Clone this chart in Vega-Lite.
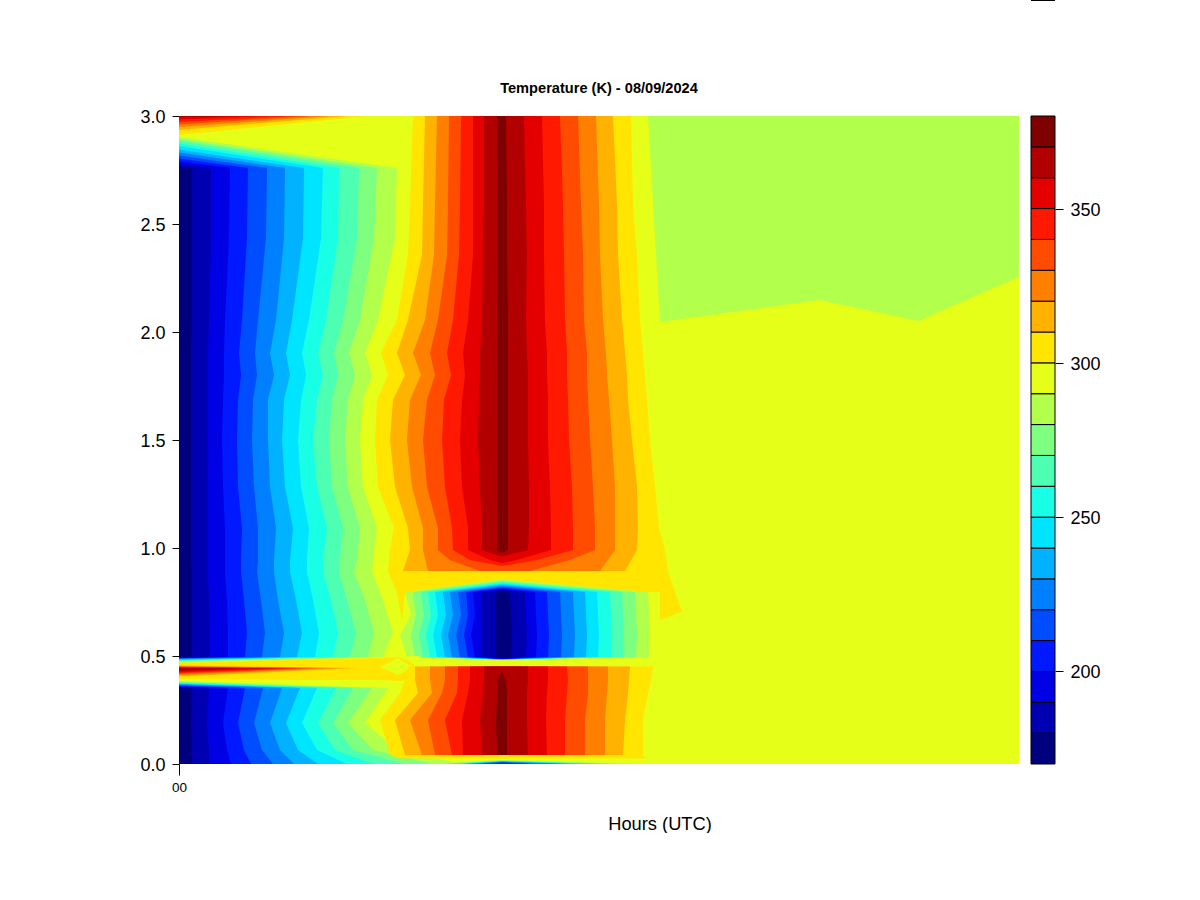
{"$schema":"https://vega.github.io/schema/vega-lite/v6.json","background":"white","autosize":{"type":"pad"},"padding":{"left":139,"top":0,"right":0,"bottom":0},"spacing":11,"config":{"view":{"stroke":null},"font":"Liberation Sans"},
"datasets":{
"base":[
{"p":"bg","t":290,"x":0,"y":3,"y2":0},{"p":"bg","t":290,"x":840,"y":3,"y2":0},
{"p":"gr","t":280,"x":469,"y":3,"y2":3},{"p":"gr","t":280,"x":481,"y":3,"y2":2.046},{"p":"gr","t":280,"x":641,"y":3,"y2":2.148},{"p":"gr","t":280,"x":739,"y":3,"y2":2.051},{"p":"gr","t":280,"x":840,"y":3,"y2":2.255}
],
"upper":[
{"p":"c","t":280,"y":2.759,"a":0,"b":218},{"p":"c","t":270,"y":2.759,"a":0,"b":198},{"p":"c","t":260,"y":2.759,"a":0,"b":180},{"p":"c","t":250,"y":2.759,"a":0,"b":160},{"p":"c","t":240,"y":2.759,"a":0,"b":144},{"p":"c","t":230,"y":2.759,"a":0,"b":125},{"p":"c","t":220,"y":2.759,"a":0,"b":106},{"p":"c","t":210,"y":2.759,"a":0,"b":88},{"p":"c","t":200,"y":2.759,"a":0,"b":69},{"p":"c","t":190,"y":2.759,"a":0,"b":51},{"p":"c","t":180,"y":2.759,"a":0,"b":32},{"p":"c","t":170,"y":2.759,"a":0,"b":13},
{"p":"c","t":280,"y":2.435,"a":0,"b":216},{"p":"c","t":270,"y":2.435,"a":0,"b":195},{"p":"c","t":260,"y":2.435,"a":0,"b":178},{"p":"c","t":250,"y":2.435,"a":0,"b":159},{"p":"c","t":240,"y":2.435,"a":0,"b":142},{"p":"c","t":230,"y":2.435,"a":0,"b":124},{"p":"c","t":220,"y":2.435,"a":0,"b":105},{"p":"c","t":210,"y":2.435,"a":0,"b":87},{"p":"c","t":200,"y":2.435,"a":0,"b":68},{"p":"c","t":190,"y":2.435,"a":0,"b":50},{"p":"c","t":180,"y":2.435,"a":0,"b":32},{"p":"c","t":170,"y":2.435,"a":0,"b":13},
{"p":"c","t":280,"y":2.056,"a":0,"b":199},{"p":"c","t":270,"y":2.056,"a":0,"b":181},{"p":"c","t":260,"y":2.056,"a":0,"b":164},{"p":"c","t":250,"y":2.056,"a":0,"b":147},{"p":"c","t":240,"y":2.056,"a":0,"b":130},{"p":"c","t":230,"y":2.056,"a":0,"b":113},{"p":"c","t":220,"y":2.056,"a":0,"b":97},{"p":"c","t":210,"y":2.056,"a":0,"b":79},{"p":"c","t":200,"y":2.056,"a":0,"b":63},{"p":"c","t":190,"y":2.056,"a":0,"b":46},{"p":"c","t":180,"y":2.056,"a":0,"b":30},{"p":"c","t":170,"y":2.056,"a":0,"b":13},
{"p":"c","t":280,"y":1.903,"a":0,"b":186},{"p":"c","t":270,"y":1.903,"a":0,"b":170},{"p":"c","t":260,"y":1.903,"a":0,"b":155},{"p":"c","t":250,"y":1.903,"a":0,"b":139},{"p":"c","t":240,"y":1.903,"a":0,"b":123},{"p":"c","t":230,"y":1.903,"a":0,"b":107},{"p":"c","t":220,"y":1.903,"a":0,"b":91},{"p":"c","t":210,"y":1.903,"a":0,"b":76},{"p":"c","t":200,"y":1.903,"a":0,"b":60},{"p":"c","t":190,"y":1.903,"a":0,"b":45},{"p":"c","t":180,"y":1.903,"a":0,"b":29},{"p":"c","t":170,"y":1.903,"a":0,"b":12},
{"p":"c","t":280,"y":1.801,"a":0,"b":193},{"p":"c","t":270,"y":1.801,"a":0,"b":176},{"p":"c","t":260,"y":1.801,"a":0,"b":159},{"p":"c","t":250,"y":1.801,"a":0,"b":144},{"p":"c","t":240,"y":1.801,"a":0,"b":127},{"p":"c","t":230,"y":1.801,"a":0,"b":111},{"p":"c","t":220,"y":1.801,"a":0,"b":95},{"p":"c","t":210,"y":1.801,"a":0,"b":78},{"p":"c","t":200,"y":1.801,"a":0,"b":62},{"p":"c","t":190,"y":1.801,"a":0,"b":45},{"p":"c","t":180,"y":1.801,"a":0,"b":29},{"p":"c","t":170,"y":1.801,"a":0,"b":12},
{"p":"c","t":280,"y":1.685,"a":0,"b":184},{"p":"c","t":270,"y":1.685,"a":0,"b":169},{"p":"c","t":260,"y":1.685,"a":0,"b":153},{"p":"c","t":250,"y":1.685,"a":0,"b":138},{"p":"c","t":240,"y":1.685,"a":0,"b":122},{"p":"c","t":230,"y":1.685,"a":0,"b":105},{"p":"c","t":220,"y":1.685,"a":0,"b":89},{"p":"c","t":210,"y":1.685,"a":0,"b":74},{"p":"c","t":200,"y":1.685,"a":0,"b":59},{"p":"c","t":190,"y":1.685,"a":0,"b":44},{"p":"c","t":180,"y":1.685,"a":0,"b":29},{"p":"c","t":170,"y":1.685,"a":0,"b":12},
{"p":"c","t":280,"y":1.5,"a":0,"b":181},{"p":"c","t":270,"y":1.5,"a":0,"b":166},{"p":"c","t":260,"y":1.5,"a":0,"b":150},{"p":"c","t":250,"y":1.5,"a":0,"b":134},{"p":"c","t":240,"y":1.5,"a":0,"b":119},{"p":"c","t":230,"y":1.5,"a":0,"b":103},{"p":"c","t":220,"y":1.5,"a":0,"b":89},{"p":"c","t":210,"y":1.5,"a":0,"b":73},{"p":"c","t":200,"y":1.5,"a":0,"b":58},{"p":"c","t":190,"y":1.5,"a":0,"b":43},{"p":"c","t":180,"y":1.5,"a":0,"b":29},{"p":"c","t":170,"y":1.5,"a":0,"b":12},
{"p":"c","t":280,"y":1.282,"a":0,"b":184},{"p":"c","t":270,"y":1.282,"a":0,"b":169},{"p":"c","t":260,"y":1.282,"a":0,"b":153},{"p":"c","t":250,"y":1.282,"a":0,"b":138},{"p":"c","t":240,"y":1.282,"a":0,"b":122},{"p":"c","t":230,"y":1.282,"a":0,"b":106},{"p":"c","t":220,"y":1.282,"a":0,"b":91},{"p":"c","t":210,"y":1.282,"a":0,"b":75},{"p":"c","t":200,"y":1.282,"a":0,"b":59},{"p":"c","t":190,"y":1.282,"a":0,"b":44},{"p":"c","t":180,"y":1.282,"a":0,"b":29},{"p":"c","t":170,"y":1.282,"a":0,"b":12},
{"p":"c","t":280,"y":1.093,"a":0,"b":198},{"p":"c","t":270,"y":1.093,"a":0,"b":181},{"p":"c","t":260,"y":1.093,"a":0,"b":164},{"p":"c","t":250,"y":1.093,"a":0,"b":148},{"p":"c","t":240,"y":1.093,"a":0,"b":130},{"p":"c","t":230,"y":1.093,"a":0,"b":114},{"p":"c","t":220,"y":1.093,"a":0,"b":97},{"p":"c","t":210,"y":1.093,"a":0,"b":79},{"p":"c","t":200,"y":1.093,"a":0,"b":63},{"p":"c","t":190,"y":1.093,"a":0,"b":46},{"p":"c","t":180,"y":1.093,"a":0,"b":29},{"p":"c","t":170,"y":1.093,"a":0,"b":12},
{"p":"c","t":280,"y":0.944,"a":0,"b":194},{"p":"c","t":270,"y":0.944,"a":0,"b":178},{"p":"c","t":260,"y":0.944,"a":0,"b":161},{"p":"c","t":250,"y":0.944,"a":0,"b":144},{"p":"c","t":240,"y":0.944,"a":0,"b":128},{"p":"c","t":230,"y":0.944,"a":0,"b":111},{"p":"c","t":220,"y":0.944,"a":0,"b":95},{"p":"c","t":210,"y":0.944,"a":0,"b":79},{"p":"c","t":200,"y":0.944,"a":0,"b":62},{"p":"c","t":190,"y":0.944,"a":0,"b":46},{"p":"c","t":180,"y":0.944,"a":0,"b":29},{"p":"c","t":170,"y":0.944,"a":0,"b":12},
{"p":"c","t":280,"y":0.889,"a":0,"b":193},{"p":"c","t":270,"y":0.889,"a":0,"b":175},{"p":"c","t":260,"y":0.889,"a":0,"b":160},{"p":"c","t":250,"y":0.889,"a":0,"b":144},{"p":"c","t":240,"y":0.889,"a":0,"b":128},{"p":"c","t":230,"y":0.889,"a":0,"b":111},{"p":"c","t":220,"y":0.889,"a":0,"b":95},{"p":"c","t":210,"y":0.889,"a":0,"b":78},{"p":"c","t":200,"y":0.889,"a":0,"b":62},{"p":"c","t":190,"y":0.889,"a":0,"b":46},{"p":"c","t":180,"y":0.889,"a":0,"b":29},{"p":"c","t":170,"y":0.889,"a":0,"b":13},
{"p":"c","t":280,"y":0.759,"a":0,"b":204},{"p":"c","t":270,"y":0.759,"a":0,"b":186},{"p":"c","t":260,"y":0.759,"a":0,"b":168},{"p":"c","t":250,"y":0.759,"a":0,"b":152},{"p":"c","t":240,"y":0.759,"a":0,"b":134},{"p":"c","t":230,"y":0.759,"a":0,"b":117},{"p":"c","t":220,"y":0.759,"a":0,"b":99},{"p":"c","t":210,"y":0.759,"a":0,"b":82},{"p":"c","t":200,"y":0.759,"a":0,"b":65},{"p":"c","t":190,"y":0.759,"a":0,"b":48},{"p":"c","t":180,"y":0.759,"a":0,"b":30},{"p":"c","t":170,"y":0.759,"a":0,"b":13},
{"p":"c","t":280,"y":0.606,"a":0,"b":214},{"p":"c","t":270,"y":0.606,"a":0,"b":195},{"p":"c","t":260,"y":0.606,"a":0,"b":177},{"p":"c","t":250,"y":0.606,"a":0,"b":159},{"p":"c","t":240,"y":0.606,"a":0,"b":140},{"p":"c","t":230,"y":0.606,"a":0,"b":123},{"p":"c","t":220,"y":0.606,"a":0,"b":105},{"p":"c","t":210,"y":0.606,"a":0,"b":86},{"p":"c","t":200,"y":0.606,"a":0,"b":68},{"p":"c","t":190,"y":0.606,"a":0,"b":49},{"p":"c","t":180,"y":0.606,"a":0,"b":31},{"p":"c","t":170,"y":0.606,"a":0,"b":13},
{"p":"c","t":280,"y":0.495,"a":0,"b":204},{"p":"c","t":270,"y":0.495,"a":0,"b":189},{"p":"c","t":260,"y":0.495,"a":0,"b":171},{"p":"c","t":250,"y":0.495,"a":0,"b":154},{"p":"c","t":240,"y":0.495,"a":0,"b":136},{"p":"c","t":230,"y":0.495,"a":0,"b":118},{"p":"c","t":220,"y":0.495,"a":0,"b":101},{"p":"c","t":210,"y":0.495,"a":0,"b":83},{"p":"c","t":200,"y":0.495,"a":0,"b":66},{"p":"c","t":190,"y":0.495,"a":0,"b":49},{"p":"c","t":180,"y":0.495,"a":0,"b":31},{"p":"c","t":170,"y":0.495,"a":0,"b":13},

{"p":"h","t":300,"y":3,"a":234,"b":452},{"p":"h","t":310,"y":3,"a":246,"b":434},{"p":"h","t":320,"y":3,"a":258,"b":417},{"p":"h","t":330,"y":3,"a":270,"b":399},{"p":"h","t":340,"y":3,"a":282,"b":381},{"p":"h","t":350,"y":3,"a":294,"b":363},{"p":"h","t":360,"y":3,"a":305,"b":345},{"p":"h","t":370,"y":3,"a":318,"b":327},
{"p":"h","t":300,"y":2.588,"a":231,"b":454},{"p":"h","t":310,"y":2.588,"a":244,"b":438},{"p":"h","t":320,"y":2.588,"a":256,"b":420},{"p":"h","t":330,"y":2.588,"a":269,"b":402},{"p":"h","t":340,"y":2.588,"a":281,"b":384},{"p":"h","t":350,"y":2.588,"a":294,"b":365},{"p":"h","t":360,"y":2.588,"a":305,"b":347},{"p":"h","t":370,"y":2.588,"a":318,"b":328},
{"p":"h","t":300,"y":2.356,"a":229,"b":458},{"p":"h","t":310,"y":2.356,"a":243,"b":439},{"p":"h","t":320,"y":2.356,"a":255,"b":421},{"p":"h","t":330,"y":2.356,"a":268,"b":404},{"p":"h","t":340,"y":2.356,"a":280,"b":385},{"p":"h","t":350,"y":2.356,"a":294,"b":365},{"p":"h","t":360,"y":2.356,"a":304,"b":348},{"p":"h","t":370,"y":2.356,"a":318,"b":328},
{"p":"h","t":300,"y":2.056,"a":218,"b":461},{"p":"h","t":310,"y":2.056,"a":229,"b":443},{"p":"h","t":320,"y":2.056,"a":246,"b":424},{"p":"h","t":330,"y":2.056,"a":259,"b":405},{"p":"h","t":340,"y":2.056,"a":274,"b":386},{"p":"h","t":350,"y":2.056,"a":289,"b":366},{"p":"h","t":360,"y":2.056,"a":303,"b":347},{"p":"h","t":370,"y":2.056,"a":318,"b":329},
{"p":"h","t":300,"y":1.903,"a":202,"b":464},{"p":"h","t":310,"y":1.903,"a":218,"b":446},{"p":"h","t":320,"y":1.903,"a":234,"b":427},{"p":"h","t":330,"y":1.903,"a":251,"b":408},{"p":"h","t":340,"y":1.903,"a":268,"b":388},{"p":"h","t":350,"y":1.903,"a":284,"b":368},{"p":"h","t":360,"y":1.903,"a":301,"b":348},{"p":"h","t":370,"y":1.903,"a":318,"b":329},
{"p":"h","t":300,"y":1.801,"a":209,"b":466},{"p":"h","t":310,"y":1.801,"a":226,"b":448},{"p":"h","t":320,"y":1.801,"a":242,"b":428},{"p":"h","t":330,"y":1.801,"a":256,"b":408},{"p":"h","t":340,"y":1.801,"a":272,"b":388},{"p":"h","t":350,"y":1.801,"a":286,"b":368},{"p":"h","t":360,"y":1.801,"a":301,"b":349},{"p":"h","t":370,"y":1.801,"a":318,"b":329},
{"p":"h","t":300,"y":1.685,"a":198,"b":468},{"p":"h","t":310,"y":1.685,"a":214,"b":449},{"p":"h","t":320,"y":1.685,"a":231,"b":430},{"p":"h","t":330,"y":1.685,"a":248,"b":409},{"p":"h","t":340,"y":1.685,"a":265,"b":389},{"p":"h","t":350,"y":1.685,"a":283,"b":369},{"p":"h","t":360,"y":1.685,"a":300,"b":349},{"p":"h","t":370,"y":1.685,"a":318,"b":329},
{"p":"h","t":300,"y":1.5,"a":196,"b":471},{"p":"h","t":310,"y":1.5,"a":211,"b":453},{"p":"h","t":320,"y":1.5,"a":228,"b":433},{"p":"h","t":330,"y":1.5,"a":244,"b":411},{"p":"h","t":340,"y":1.5,"a":263,"b":390},{"p":"h","t":350,"y":1.5,"a":281,"b":369},{"p":"h","t":360,"y":1.5,"a":299,"b":349},{"p":"h","t":370,"y":1.5,"a":318,"b":329},
{"p":"h","t":300,"y":1.282,"a":199,"b":476},{"p":"h","t":310,"y":1.282,"a":216,"b":458},{"p":"h","t":320,"y":1.282,"a":233,"b":436},{"p":"h","t":330,"y":1.282,"a":248,"b":414},{"p":"h","t":340,"y":1.282,"a":266,"b":393},{"p":"h","t":350,"y":1.282,"a":283,"b":371},{"p":"h","t":360,"y":1.282,"a":301,"b":350},{"p":"h","t":370,"y":1.282,"a":318,"b":329},
{"p":"h","t":300,"y":1.093,"a":215,"b":480},{"p":"h","t":310,"y":1.093,"a":229,"b":459},{"p":"h","t":320,"y":1.093,"a":244,"b":436},{"p":"h","t":330,"y":1.093,"a":259,"b":416},{"p":"h","t":340,"y":1.093,"a":273,"b":394},{"p":"h","t":350,"y":1.093,"a":289,"b":372},{"p":"h","t":360,"y":1.093,"a":303,"b":350},{"p":"h","t":370,"y":1.093,"a":318,"b":329},
{"p":"h","t":300,"y":0.991,"a":211,"b":486},{"p":"h","t":310,"y":0.991,"a":231,"b":458},{"p":"h","t":320,"y":0.991,"a":244,"b":436},{"p":"h","t":330,"y":0.991,"a":259,"b":416},{"p":"h","t":340,"y":0.991,"a":274,"b":394},{"p":"h","t":350,"y":0.991,"a":289,"b":372},{"p":"h","t":360,"y":0.991,"a":303,"b":349},{"p":"h","t":370,"y":0.991,"a":318,"b":329},
{"p":"h","t":370,"y":0.977,"a":323,"b":323},{"p":"h","t":360,"y":0.96,"a":323,"b":323},{"p":"h","t":350,"y":0.944,"a":311,"b":338},{"p":"h","t":350,"y":0.929,"a":323,"b":323},{"p":"h","t":340,"y":0.944,"a":291,"b":358},{"p":"h","t":340,"y":0.917,"a":323,"b":323},{"p":"h","t":330,"y":0.944,"a":271,"b":391},{"p":"h","t":330,"y":0.894,"a":301,"b":351},{"p":"h","t":320,"y":0.894,"a":249,"b":421},{"p":"h","t":310,"y":0.894,"a":224,"b":446},{"p":"h","t":300,"y":0.889,"a":209,"b":489},{"p":"h","t":300,"y":0.796,"a":218,"b":496},
{"p":"s1","t":300,"y":0.796,"a":218,"b":226},{"p":"s1","t":300,"y":0.662,"a":223,"b":223},
{"p":"s2","t":300,"y":0.796,"a":481,"b":496},{"p":"s2","t":300,"y":0.705,"a":481,"b":503},{"p":"s2","t":300,"y":0.667,"a":481,"b":481},

{"p":"b","t":280,"y":0.855,"a":323,"b":323},{"p":"b","t":270,"y":0.849,"a":323,"b":323},{"p":"b","t":260,"y":0.844,"a":323,"b":323},{"p":"b","t":250,"y":0.839,"a":323,"b":323},{"p":"b","t":240,"y":0.835,"a":323,"b":323},{"p":"b","t":230,"y":0.83,"a":323,"b":323},{"p":"b","t":220,"y":0.825,"a":323,"b":323},{"p":"b","t":210,"y":0.821,"a":323,"b":323},{"p":"b","t":200,"y":0.816,"a":323,"b":323},{"p":"b","t":190,"y":0.811,"a":323,"b":323},{"p":"b","t":180,"y":0.807,"a":323,"b":323},{"p":"b","t":170,"y":0.802,"a":323,"b":323},
{"p":"b","t":280,"y":0.796,"a":226,"b":469},{"p":"b","t":270,"y":0.796,"a":234,"b":456},{"p":"b","t":260,"y":0.796,"a":242,"b":443},{"p":"b","t":250,"y":0.796,"a":249,"b":431},{"p":"b","t":240,"y":0.796,"a":256,"b":418},{"p":"b","t":230,"y":0.796,"a":264,"b":406},{"p":"b","t":220,"y":0.796,"a":271,"b":394},{"p":"b","t":210,"y":0.796,"a":279,"b":381},{"p":"b","t":200,"y":0.796,"a":287,"b":368},{"p":"b","t":190,"y":0.796,"a":294,"b":356},{"p":"b","t":180,"y":0.796,"a":302,"b":346},{"p":"b","t":170,"y":0.796,"a":316,"b":331},
{"p":"b","t":280,"y":0.69,"a":232,"b":470},{"p":"b","t":270,"y":0.69,"a":237,"b":457},{"p":"b","t":260,"y":0.69,"a":245,"b":444},{"p":"b","t":250,"y":0.69,"a":252,"b":432},{"p":"b","t":240,"y":0.69,"a":259,"b":419},{"p":"b","t":230,"y":0.69,"a":267,"b":407},{"p":"b","t":220,"y":0.69,"a":274,"b":395},{"p":"b","t":210,"y":0.69,"a":282,"b":382},{"p":"b","t":200,"y":0.69,"a":289,"b":369},{"p":"b","t":190,"y":0.69,"a":296,"b":357},{"p":"b","t":180,"y":0.69,"a":302,"b":347},{"p":"b","t":170,"y":0.69,"a":316,"b":332},
{"p":"b","t":280,"y":0.597,"a":221,"b":471},{"p":"b","t":270,"y":0.597,"a":232,"b":458},{"p":"b","t":260,"y":0.597,"a":240,"b":445},{"p":"b","t":250,"y":0.597,"a":247,"b":433},{"p":"b","t":240,"y":0.597,"a":254,"b":420},{"p":"b","t":230,"y":0.597,"a":262,"b":408},{"p":"b","t":220,"y":0.597,"a":269,"b":396},{"p":"b","t":210,"y":0.597,"a":277,"b":383},{"p":"b","t":200,"y":0.597,"a":285,"b":370},{"p":"b","t":190,"y":0.597,"a":292,"b":358},{"p":"b","t":180,"y":0.597,"a":302,"b":348},{"p":"b","t":170,"y":0.597,"a":316,"b":333},
{"p":"b","t":280,"y":0.495,"a":228,"b":470},{"p":"b","t":270,"y":0.495,"a":236,"b":457},{"p":"b","t":260,"y":0.495,"a":244,"b":444},{"p":"b","t":250,"y":0.495,"a":251,"b":432},{"p":"b","t":240,"y":0.495,"a":258,"b":419},{"p":"b","t":230,"y":0.495,"a":266,"b":407},{"p":"b","t":220,"y":0.495,"a":273,"b":395},{"p":"b","t":210,"y":0.495,"a":281,"b":382},{"p":"b","t":200,"y":0.495,"a":289,"b":369},{"p":"b","t":190,"y":0.495,"a":296,"b":357},{"p":"b","t":180,"y":0.495,"a":302,"b":347},{"p":"b","t":170,"y":0.495,"a":316,"b":332},
{"p":"b","t":280,"y":0.481,"a":323,"b":323},{"p":"b","t":270,"y":0.484,"a":323,"b":323},{"p":"b","t":260,"y":0.484,"a":323,"b":323},{"p":"b","t":250,"y":0.484,"a":323,"b":323},{"p":"b","t":240,"y":0.484,"a":323,"b":323},{"p":"b","t":230,"y":0.484,"a":323,"b":323},{"p":"b","t":220,"y":0.486,"a":323,"b":323},{"p":"b","t":210,"y":0.486,"a":323,"b":323},{"p":"b","t":200,"y":0.486,"a":323,"b":323},{"p":"b","t":190,"y":0.486,"a":323,"b":323},{"p":"b","t":180,"y":0.491,"a":323,"b":323},{"p":"b","t":170,"y":0.491,"a":323,"b":323},

{"p":"d","t":280,"y":0.352,"a":0,"b":209},{"p":"d","t":270,"y":0.352,"a":0,"b":193},{"p":"d","t":260,"y":0.352,"a":0,"b":174},{"p":"d","t":250,"y":0.352,"a":0,"b":157},{"p":"d","t":240,"y":0.352,"a":0,"b":138},{"p":"d","t":230,"y":0.352,"a":0,"b":121},{"p":"d","t":220,"y":0.352,"a":0,"b":103},{"p":"d","t":210,"y":0.352,"a":0,"b":84},{"p":"d","t":200,"y":0.352,"a":0,"b":66},{"p":"d","t":190,"y":0.352,"a":0,"b":49},{"p":"d","t":180,"y":0.352,"a":0,"b":30},{"p":"d","t":170,"y":0.352,"a":0,"b":13},
{"p":"d","t":280,"y":0.19,"a":0,"b":186},{"p":"d","t":270,"y":0.19,"a":0,"b":169},{"p":"d","t":260,"y":0.19,"a":0,"b":154},{"p":"d","t":250,"y":0.19,"a":0,"b":139},{"p":"d","t":240,"y":0.19,"a":0,"b":123},{"p":"d","t":230,"y":0.19,"a":0,"b":107},{"p":"d","t":220,"y":0.19,"a":0,"b":91},{"p":"d","t":210,"y":0.19,"a":0,"b":75},{"p":"d","t":200,"y":0.19,"a":0,"b":59},{"p":"d","t":190,"y":0.19,"a":0,"b":44},{"p":"d","t":180,"y":0.19,"a":0,"b":28},{"p":"d","t":170,"y":0.19,"a":0,"b":12},
{"p":"d","t":280,"y":0.065,"a":0,"b":218},{"p":"d","t":270,"y":0.065,"a":0,"b":194},{"p":"d","t":260,"y":0.065,"a":0,"b":174},{"p":"d","t":250,"y":0.065,"a":0,"b":156},{"p":"d","t":240,"y":0.065,"a":0,"b":138},{"p":"d","t":230,"y":0.065,"a":0,"b":119},{"p":"d","t":220,"y":0.065,"a":0,"b":101},{"p":"d","t":210,"y":0.065,"a":0,"b":83},{"p":"d","t":200,"y":0.065,"a":0,"b":65},{"p":"d","t":190,"y":0.065,"a":0,"b":48},{"p":"d","t":180,"y":0.065,"a":0,"b":30},{"p":"d","t":170,"y":0.065,"a":0,"b":13},
{"p":"d","t":280,"y":0,"a":0,"b":284},{"p":"d","t":270,"y":0,"a":0,"b":254},{"p":"d","t":260,"y":0,"a":0,"b":224},{"p":"d","t":250,"y":0,"a":0,"b":194},{"p":"d","t":240,"y":0,"a":0,"b":168},{"p":"d","t":230,"y":0,"a":0,"b":139},{"p":"d","t":220,"y":0,"a":0,"b":115},{"p":"d","t":210,"y":0,"a":0,"b":94},{"p":"d","t":200,"y":0,"a":0,"b":72},{"p":"d","t":190,"y":0,"a":0,"b":52},{"p":"d","t":180,"y":0,"a":0,"b":30},{"p":"d","t":170,"y":0,"a":0,"b":13}
],
"bands":[
{"p":"th","t":300,"x":0,"y":3,"y2":2.912},{"p":"th","t":300,"x":188,"y":3,"y2":3},{"p":"th","t":310,"x":0,"y":3,"y2":2.935},{"p":"th","t":310,"x":168,"y":3,"y2":3},{"p":"th","t":320,"x":0,"y":3,"y2":2.949},{"p":"th","t":320,"x":151,"y":3,"y2":3},{"p":"th","t":330,"x":0,"y":3,"y2":2.961},{"p":"th","t":330,"x":134,"y":3,"y2":3},{"p":"th","t":340,"x":0,"y":3,"y2":2.972},{"p":"th","t":340,"x":114,"y":3,"y2":3},{"p":"th","t":350,"x":0,"y":3,"y2":2.984},{"p":"th","t":350,"x":83,"y":3,"y2":3},{"p":"th","t":360,"x":0,"y":3,"y2":2.993},{"p":"th","t":360,"x":51,"y":3,"y2":3},
{"p":"tc","t":280,"x":0,"y":2.903,"y2":2.755},{"p":"tc","t":280,"x":218,"y":2.759,"y2":2.755},{"p":"tc","t":270,"x":0,"y":2.894,"y2":2.755},{"p":"tc","t":270,"x":198,"y":2.759,"y2":2.755},{"p":"tc","t":260,"x":0,"y":2.884,"y2":2.755},{"p":"tc","t":260,"x":180,"y":2.759,"y2":2.755},{"p":"tc","t":250,"x":0,"y":2.873,"y2":2.755},{"p":"tc","t":250,"x":160,"y":2.759,"y2":2.755},{"p":"tc","t":240,"x":0,"y":2.861,"y2":2.755},{"p":"tc","t":240,"x":144,"y":2.759,"y2":2.755},{"p":"tc","t":230,"x":0,"y":2.845,"y2":2.755},{"p":"tc","t":230,"x":125,"y":2.759,"y2":2.755},{"p":"tc","t":220,"x":0,"y":2.831,"y2":2.755},{"p":"tc","t":220,"x":106,"y":2.759,"y2":2.755},{"p":"tc","t":210,"x":0,"y":2.817,"y2":2.755},{"p":"tc","t":210,"x":88,"y":2.759,"y2":2.755},{"p":"tc","t":200,"x":0,"y":2.803,"y2":2.755},{"p":"tc","t":200,"x":69,"y":2.759,"y2":2.755},{"p":"tc","t":190,"x":0,"y":2.789,"y2":2.755},{"p":"tc","t":190,"x":51,"y":2.759,"y2":2.755},{"p":"tc","t":180,"x":0,"y":2.775,"y2":2.755},{"p":"tc","t":180,"x":32,"y":2.759,"y2":2.755},{"p":"tc","t":170,"x":0,"y":2.764,"y2":2.755},{"p":"tc","t":170,"x":13,"y":2.759,"y2":2.755},
{"p":"bd","t":290,"x":0,"y":0.5,"y2":0.352},{"p":"bd","t":290,"x":241,"y":0.5,"y2":0.352},
{"p":"bd","t":300,"x":0,"y":0.468,"y2":0.394},{"p":"bd","t":300,"x":161,"y":0.486,"y2":0.389},{"p":"bd","t":300,"x":199,"y":0.491,"y2":0.389},{"p":"bd","t":300,"x":221,"y":0.493,"y2":0.384},{"p":"bd","t":300,"x":232,"y":0.472,"y2":0.389},{"p":"bd","t":300,"x":236,"y":0.449,"y2":0.44},
{"p":"dm","t":290,"x":201,"y":0.449,"y2":0.449},{"p":"dm","t":290,"x":219,"y":0.491,"y2":0.412},{"p":"dm","t":290,"x":234,"y":0.449,"y2":0.449},
{"p":"sp","t":310,"x":0,"y":0.456,"y2":0.405},{"p":"sp","t":310,"x":178,"y":0.444,"y2":0.444},{"p":"sp","t":320,"x":0,"y":0.454,"y2":0.412},{"p":"sp","t":320,"x":158,"y":0.444,"y2":0.444},{"p":"sp","t":330,"x":0,"y":0.451,"y2":0.417},{"p":"sp","t":330,"x":138,"y":0.444,"y2":0.444},{"p":"sp","t":340,"x":0,"y":0.449,"y2":0.421},{"p":"sp","t":340,"x":124,"y":0.444,"y2":0.444},{"p":"sp","t":350,"x":0,"y":0.447,"y2":0.426},{"p":"sp","t":350,"x":104,"y":0.444,"y2":0.444},{"p":"sp","t":360,"x":0,"y":0.444,"y2":0.431},{"p":"sp","t":360,"x":61,"y":0.444,"y2":0.444},
{"p":"uw","t":280,"x":0,"y":0.5,"y2":0.472},{"p":"uw","t":280,"x":204,"y":0.5,"y2":0.495},{"p":"uw","t":270,"x":0,"y":0.5,"y2":0.475},{"p":"uw","t":270,"x":189,"y":0.5,"y2":0.495},{"p":"uw","t":260,"x":0,"y":0.5,"y2":0.477},{"p":"uw","t":260,"x":171,"y":0.5,"y2":0.495},{"p":"uw","t":250,"x":0,"y":0.5,"y2":0.479},{"p":"uw","t":250,"x":154,"y":0.5,"y2":0.495},{"p":"uw","t":240,"x":0,"y":0.5,"y2":0.481},{"p":"uw","t":240,"x":136,"y":0.5,"y2":0.495},{"p":"uw","t":230,"x":0,"y":0.5,"y2":0.484},{"p":"uw","t":230,"x":118,"y":0.5,"y2":0.495},{"p":"uw","t":220,"x":0,"y":0.5,"y2":0.486},{"p":"uw","t":220,"x":101,"y":0.5,"y2":0.495},{"p":"uw","t":210,"x":0,"y":0.5,"y2":0.488},{"p":"uw","t":210,"x":83,"y":0.5,"y2":0.495},{"p":"uw","t":200,"x":0,"y":0.5,"y2":0.491},{"p":"uw","t":200,"x":66,"y":0.5,"y2":0.495},{"p":"uw","t":190,"x":0,"y":0.5,"y2":0.492},{"p":"uw","t":190,"x":49,"y":0.5,"y2":0.495},{"p":"uw","t":180,"x":0,"y":0.5,"y2":0.493},{"p":"uw","t":180,"x":31,"y":0.5,"y2":0.495},{"p":"uw","t":170,"x":0,"y":0.5,"y2":0.494},{"p":"uw","t":170,"x":13,"y":0.5,"y2":0.495},
{"p":"lw","t":280,"x":0,"y":0.384,"y2":0.348},{"p":"lw","t":280,"x":209,"y":0.352,"y2":0.348},{"p":"lw","t":270,"x":0,"y":0.381,"y2":0.348},{"p":"lw","t":270,"x":193,"y":0.352,"y2":0.348},{"p":"lw","t":260,"x":0,"y":0.379,"y2":0.348},{"p":"lw","t":260,"x":174,"y":0.352,"y2":0.348},{"p":"lw","t":250,"x":0,"y":0.376,"y2":0.348},{"p":"lw","t":250,"x":157,"y":0.352,"y2":0.348},{"p":"lw","t":240,"x":0,"y":0.373,"y2":0.348},{"p":"lw","t":240,"x":138,"y":0.352,"y2":0.348},{"p":"lw","t":230,"x":0,"y":0.37,"y2":0.348},{"p":"lw","t":230,"x":121,"y":0.352,"y2":0.348},{"p":"lw","t":220,"x":0,"y":0.368,"y2":0.348},{"p":"lw","t":220,"x":103,"y":0.352,"y2":0.348},{"p":"lw","t":210,"x":0,"y":0.365,"y2":0.348},{"p":"lw","t":210,"x":84,"y":0.352,"y2":0.348},{"p":"lw","t":200,"x":0,"y":0.362,"y2":0.348},{"p":"lw","t":200,"x":66,"y":0.352,"y2":0.348},{"p":"lw","t":190,"x":0,"y":0.359,"y2":0.348},{"p":"lw","t":190,"x":49,"y":0.352,"y2":0.348},{"p":"lw","t":180,"x":0,"y":0.356,"y2":0.348},{"p":"lw","t":180,"x":30,"y":0.352,"y2":0.348},{"p":"lw","t":170,"x":0,"y":0.354,"y2":0.348},{"p":"lw","t":170,"x":13,"y":0.352,"y2":0.348}
],
"lower":[
{"p":"l","t":300,"y":0.451,"a":229,"b":474},{"p":"l","t":310,"y":0.451,"a":236,"b":451},{"p":"l","t":320,"y":0.451,"a":251,"b":429},{"p":"l","t":330,"y":0.451,"a":266,"b":409},{"p":"l","t":340,"y":0.451,"a":279,"b":388},{"p":"l","t":350,"y":0.451,"a":291,"b":369},{"p":"l","t":360,"y":0.451,"a":305,"b":349},{"p":"l","t":370,"y":0.426,"a":323,"b":323},
{"p":"l","t":300,"y":0.389,"a":226,"b":472},{"p":"l","t":310,"y":0.389,"a":236,"b":450},{"p":"l","t":320,"y":0.389,"a":251,"b":429},{"p":"l","t":330,"y":0.389,"a":266,"b":409},{"p":"l","t":340,"y":0.389,"a":279,"b":389},{"p":"l","t":350,"y":0.389,"a":291,"b":369},{"p":"l","t":360,"y":0.389,"a":305,"b":349},{"p":"l","t":370,"y":0.389,"a":318,"b":327},
{"p":"l","t":300,"y":0.329,"a":221,"b":469},{"p":"l","t":310,"y":0.329,"a":239,"b":449},{"p":"l","t":320,"y":0.329,"a":253,"b":428},{"p":"l","t":330,"y":0.329,"a":263,"b":409},{"p":"l","t":340,"y":0.329,"a":278,"b":388},{"p":"l","t":350,"y":0.329,"a":289,"b":368},{"p":"l","t":360,"y":0.329,"a":304,"b":348},{"p":"l","t":370,"y":0.329,"a":318,"b":328},
{"p":"l","t":300,"y":0.204,"a":201,"b":464},{"p":"l","t":310,"y":0.204,"a":216,"b":446},{"p":"l","t":320,"y":0.204,"a":231,"b":426},{"p":"l","t":330,"y":0.204,"a":249,"b":406},{"p":"l","t":340,"y":0.204,"a":266,"b":386},{"p":"l","t":350,"y":0.204,"a":283,"b":367},{"p":"l","t":360,"y":0.204,"a":301,"b":348},{"p":"l","t":370,"y":0.204,"a":317,"b":328},
{"p":"l","t":300,"y":0.042,"a":211,"b":464},{"p":"l","t":310,"y":0.042,"a":226,"b":444},{"p":"l","t":320,"y":0.042,"a":243,"b":426},{"p":"l","t":330,"y":0.042,"a":256,"b":406},{"p":"l","t":340,"y":0.042,"a":273,"b":386},{"p":"l","t":350,"y":0.042,"a":284,"b":368},{"p":"l","t":360,"y":0.042,"a":303,"b":349},{"p":"l","t":370,"y":0.042,"a":318,"b":328},
{"p":"l","t":300,"y":0.025,"a":221,"b":467}
],
"arch":[
{"p":"ar","t":280,"x":241,"y":0,"y2":0},{"p":"ar","t":280,"x":323,"y":0.019,"y2":0},{"p":"ar","t":280,"x":471,"y":0,"y2":0},
{"p":"ar","t":260,"x":261,"y":0,"y2":0},{"p":"ar","t":260,"x":323,"y":0.016,"y2":0},{"p":"ar","t":260,"x":441,"y":0,"y2":0},
{"p":"ar","t":240,"x":273,"y":0,"y2":0},{"p":"ar","t":240,"x":323,"y":0.014,"y2":0},{"p":"ar","t":240,"x":421,"y":0,"y2":0},
{"p":"ar","t":220,"x":286,"y":0,"y2":0},{"p":"ar","t":220,"x":323,"y":0.012,"y2":0},{"p":"ar","t":220,"x":391,"y":0,"y2":0},
{"p":"ar","t":200,"x":301,"y":0,"y2":0},{"p":"ar","t":200,"x":323,"y":0.007,"y2":0},{"p":"ar","t":200,"x":356,"y":0,"y2":0}
],
"bar":[
{"t":170,"hi":180},{"t":180,"hi":190},{"t":190,"hi":200},{"t":200,"hi":210},{"t":210,"hi":220},{"t":220,"hi":230},{"t":230,"hi":240},{"t":240,"hi":250},{"t":250,"hi":260},{"t":260,"hi":270},{"t":270,"hi":280},{"t":280,"hi":290},{"t":290,"hi":300},{"t":300,"hi":310},{"t":310,"hi":320},{"t":320,"hi":330},{"t":330,"hi":340},{"t":340,"hi":350},{"t":350,"hi":360},{"t":360,"hi":370},{"t":370,"hi":380}
],
"stray":[{"v":417.43}]
},
"hconcat":[
{"width":840,"height":648,
"title":{"text":"Temperature (K) - 08/09/2024","fontSize":14.6,"fontWeight":"bold","font":"Liberation Sans","color":"black","anchor":"middle","offset":12},
"layer":[
{"data":{"name":"base"},"mark":{"type":"area","orient":"vertical"},"encoding":{
"x":{"field":"x","type":"quantitative","scale":{"domain":[0,840],"nice":false},"axis":{"values":[0],"labelExpr":"'00'","labelFlush":false,"labelAlign":"center","grid":false,"domain":false,"tickColor":"black","tickSize":11,"labelColor":"black","labelFontSize":13.5,"labelPadding":5,"title":"Hours (UTC)","titleFontSize":18.3,"titleFontWeight":"normal","titleColor":"black","titleX":480.5,"titleY":51}},
"y":{"field":"y","type":"quantitative","scale":{"domain":[0,3],"nice":false},"axis":{"values":[0,0.5,1,1.5,2,2.5,3],"format":".1f","grid":false,"domain":false,"tickColor":"black","tickSize":7,"labelColor":"black","labelFontSize":18,"labelPadding":7,"labelOffset":1,"title":null}},
"y2":{"field":"y2"},"detail":{"field":"p"},
"color":{"field":"t","type":"ordinal","legend":null,"scale":{"domain":[170,180,190,200,210,220,230,240,250,260,270,280,290,300,310,320,330,340,350,360,370],"range":["#00007F","#0000B2","#0000E5","#0019FF","#004CFF","#007FFF","#00B2FF","#00E5FF","#19FFE5","#4CFFB2","#7FFF7F","#B2FF4C","#E5FF19","#FFE500","#FFB200","#FF7F00","#FF4C00","#FF1900","#E50000","#B20000","#7F0000"]}}}},
{"data":{"name":"upper"},"mark":{"type":"area","orient":"horizontal"},"encoding":{"y":{"field":"y","type":"quantitative"},"x":{"field":"a","type":"quantitative"},"x2":{"field":"b"},"detail":{"field":"p"},"color":{"field":"t","type":"ordinal","legend":null}}},
{"data":{"name":"bands"},"mark":{"type":"area","orient":"vertical"},"encoding":{"x":{"field":"x","type":"quantitative"},"y":{"field":"y","type":"quantitative"},"y2":{"field":"y2"},"detail":{"field":"p"},"color":{"field":"t","type":"ordinal","legend":null}}},
{"data":{"name":"lower"},"mark":{"type":"area","orient":"horizontal"},"encoding":{"y":{"field":"y","type":"quantitative"},"x":{"field":"a","type":"quantitative"},"x2":{"field":"b"},"detail":{"field":"p"},"color":{"field":"t","type":"ordinal","legend":null}}},
{"data":{"name":"arch"},"mark":{"type":"area","orient":"vertical"},"encoding":{"x":{"field":"x","type":"quantitative"},"y":{"field":"y","type":"quantitative"},"y2":{"field":"y2"},"detail":{"field":"p"},"color":{"field":"t","type":"ordinal","legend":null}}}
]},
{"width":24,"height":648,
"layer":[
{"data":{"name":"bar"},"mark":{"type":"rect","stroke":"black","strokeWidth":1},"encoding":{
"y":{"field":"t","type":"quantitative","scale":{"domain":[170,380],"nice":false,"zero":false},"axis":{"orient":"right","values":[200,250,300,350],"grid":false,"domain":false,"tickColor":"black","tickSize":8,"labelColor":"black","labelFontSize":18,"labelPadding":7,"labelOffset":1.5,"title":null}},
"y2":{"field":"hi"},
"color":{"field":"t","type":"ordinal","legend":null,"scale":{"domain":[170,180,190,200,210,220,230,240,250,260,270,280,290,300,310,320,330,340,350,360,370],"range":["#00007F","#0000B2","#0000E5","#0019FF","#004CFF","#007FFF","#00B2FF","#00E5FF","#19FFE5","#4CFFB2","#7FFF7F","#B2FF4C","#E5FF19","#FFE500","#FFB200","#FF7F00","#FF4C00","#FF1900","#E50000","#B20000","#7F0000"]}}}},
{"data":{"name":"stray"},"mark":{"type":"rule","stroke":"black","strokeWidth":1},"encoding":{"y":{"field":"v","type":"quantitative"}}}
]}
]}
